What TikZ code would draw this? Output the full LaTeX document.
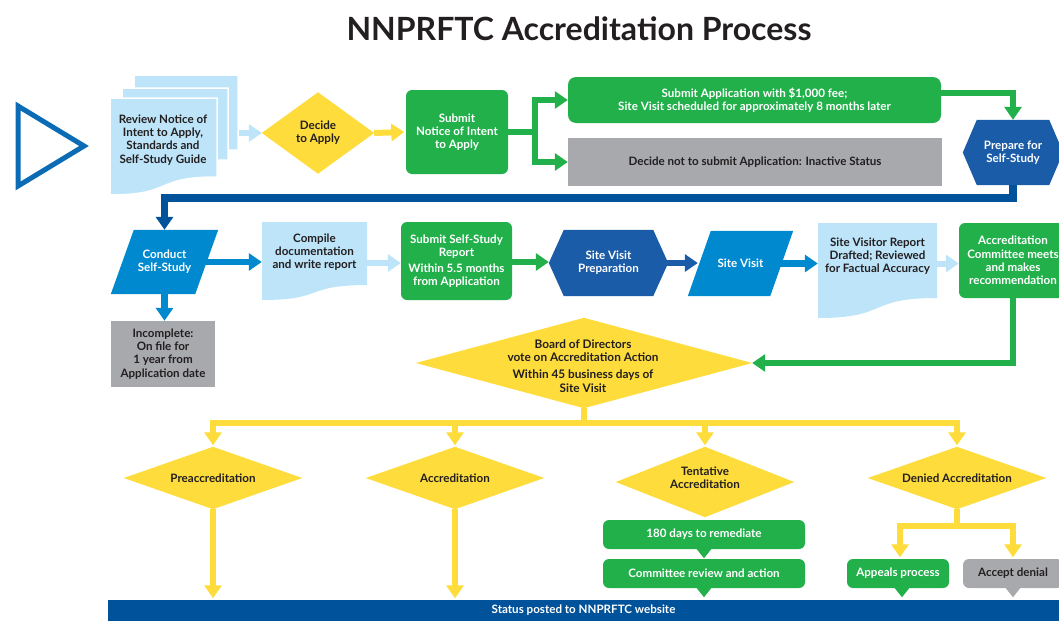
\documentclass[tikz,border=0pt]{standalone}
\usepackage{fontspec}
\setmainfont{Lato}
\usetikzlibrary{arrows.meta,calc}
\definecolor{cyel}{HTML}{FDDC3C}
\definecolor{cgrn}{HTML}{22B04B}
\definecolor{cgry}{HTML}{A7A9AC}
\definecolor{clbl}{HTML}{BDE4F8}
\definecolor{cdbl}{HTML}{1A5CA8}
\definecolor{cnav}{HTML}{00529B}
\definecolor{cbbl}{HTML}{0089CF}
\definecolor{ctri}{HTML}{0B6BB5}
\definecolor{ctxt}{HTML}{231F20}
\pgfdeclarelayer{lines}\pgfdeclarelayer{shapes}
\pgfsetlayers{lines,shapes,main}
\begin{document}
\begin{tikzpicture}[x=1pt,y=-1pt,
  every node/.style={inner sep=0pt, align=center, font=\bfseries\fontsize{11.6}{13.3}\selectfont},
  dk/.style={text=ctxt},
  wt/.style={text=white},
  gbox/.style={fill=cgrn, rounded corners=6pt, text=white},
  graybox/.style={fill=cgry, text=ctxt},
  tip/.style={-{Triangle[width=17pt,length=13pt]}},
  yln/.style={draw=cyel, line width=6pt},
  yarr/.style={yln, tip, shorten >=1.5pt},
  garr/.style={draw=cgrn, line width=6pt, tip},
  lbarr/.style={draw=clbl, line width=6pt, tip},
  bbarr/.style={draw=cbbl, line width=6.5pt, tip},
  dbarr/.style={draw=cdbl, line width=6.5pt, tip},
  navarr/.style={draw=cnav, line width=7.5pt, tip}]
\useasboundingbox (0,0) rectangle (1059,621);

% title
\node[dk, font=\bfseries\fontsize{32}{32}\selectfont] (title) at (579,29) {NNPRFTC Accreditation Process};

% start triangle
\draw[ctri, line width=5pt, line join=miter] (18,106) -- (84,146) -- (18,186) -- cycle;

% nodes
\node[dk] (rev) at (163,140) {Review Notice of\\Intent to Apply,\\Standards and\\Self-Study Guide};
\coordinate (revout) at (238,133);
\node[dk, minimum width=112pt, minimum height=81pt] (dec) at (318,133) {Decide\\to Apply};
\node[gbox, minimum width=102pt, minimum height=84pt] (sna) at (457,132) {Submit\\Notice of Intent\\to Apply};
\coordinate (br) at (535,132);
\node[gbox, rounded corners=8pt, minimum width=373pt, minimum height=46pt] (sub) at (754.5,100) {Submit Application with \$1,000 fee;\\Site Visit scheduled for approximately 8 months later};
\node[graybox, minimum width=374pt, minimum height=48pt] (ina) at (755,162) {Decide not to submit Application: Inactive Status};
\node[wt, minimum width=100pt, minimum height=65pt] (prep) at (1013,152.5) {Prepare for\\Self-Study};
\coordinate (db) at (1013,198);

\node[wt, minimum width=107pt, minimum height=64pt] (cond) at (164.5,262) {Conduct\\Self-Study};
\node[graybox, minimum width=104pt, minimum height=66pt] (inc) at (163,354) {Incomplete:\\On file for\\1 year from\\Application date};
\node[minimum width=105pt, minimum height=78pt] (comp) at (314.5,261) {};
\node[dk] (compt) at (314.5,252) {Compile\\documentation\\and write report};
\node[gbox, minimum width=111pt, minimum height=78pt] (ssr) at (456.5,261) {Submit Self-Study\\Report\\[2.5pt]Within 5.5 months\\from Application};
\node[wt, minimum width=119pt, minimum height=66pt] (svp) at (608.5,263) {Site Visit\\Preparation};
\node[wt, minimum width=105pt, minimum height=65pt] (sv) at (740.5,263.5) {Site Visit};
\node[minimum width=119pt, minimum height=95pt] (svr) at (877.5,270.5) {};
\node[dk] (svrt) at (877.5,256) {Site Visitor Report\\Drafted; Reviewed\\for Factual Accuracy};
\node[gbox, minimum width=108pt, minimum height=75pt] (acm) at (1013,260.5) {Accreditation\\Committee meets\\and makes\\recommendation};

\node[minimum width=336pt, minimum height=90pt] (bod) at (584,363) {};
\node[dk, font=\bfseries\fontsize{11.8}{13.3}\selectfont] (bodt) at (583,366) {Board of Directors\\vote on Accreditation Action\\[4pt]Within 45 business days of\\Site Visit};
\coordinate (ysplit) at (584,423);

\node[dk, minimum width=178pt, minimum height=62pt] (pre) at (213,478) {Preaccreditation};
\node[dk, minimum width=178pt, minimum height=62pt] (acc) at (455,478) {Accreditation};
\node[minimum width=178pt, minimum height=70pt] (ten) at (705,482) {};
\node[dk] (tent) at (705,478) {Tentative\\Accreditation};
\node[dk, minimum width=178pt, minimum height=62pt] (den) at (957,478) {Denied Accreditation};
\node[gbox, minimum width=202pt, minimum height=29pt] (r180) at (704,534.5) {180 days to remediate};
\node[gbox, minimum width=202pt, minimum height=29pt] (crv) at (704,573.5) {Committee review and action};
\coordinate (dsplit) at (957,526);
\node[gbox, minimum width=102pt, minimum height=29pt] (app) at (898,573.5) {Appeals process};
\node[graybox, rounded corners=6pt, minimum width=100pt, minimum height=29pt] (acd) at (1013,573.5) {Accept denial};
\node[fill=cnav, text=white, minimum width=951pt, minimum height=21pt] (bar) at (583.5,610.5) {Status posted to NNPRFTC website};

% shapes
\begin{pgfonlayer}{shapes}
\filldraw[fill=clbl, draw=white, line width=1.5pt] (134,75) -- (238,75) -- (238,150) .. controls (175.6,150) and (196.4,168) .. (134,168) -- cycle;
\filldraw[fill=clbl, draw=white, line width=1.5pt] (122,88) -- (228,88) -- (228,160) .. controls (164.4,160) and (185.6,178) .. (122,178) -- cycle;
\filldraw[fill=clbl, draw=white, line width=1.5pt] (110,98) -- (217,98) -- (217,177) .. controls (152.8,177) and (174.2,195) .. (110,195) -- cycle;
\fill[cyel] (dec.west) -- (dec.north) -- (dec.east) -- (dec.south) -- cycle;
\fill[cdbl] ([xshift=14pt]prep.north west) -- ([xshift=-14pt]prep.north east) -- (prep.east) -- ([xshift=-14pt]prep.south east) -- ([xshift=14pt]prep.south west) -- (prep.west) -- cycle;
\fill[cbbl] ([xshift=23pt]cond.north west) -- (cond.north east) -- ([xshift=-23pt]cond.south east) -- (cond.south west) -- cycle;
\fill[clbl] (262,222) -- (367,222) -- (367,285) .. controls (304,285) and (325,300) .. (262,300) -- cycle;
\fill[cdbl] ([xshift=15pt]svp.north west) -- ([xshift=-15pt]svp.north east) -- (svp.east) -- ([xshift=-15pt]svp.south east) -- ([xshift=15pt]svp.south west) -- (svp.west) -- cycle;
\fill[cbbl] ([xshift=23pt]sv.north west) -- (sv.north east) -- ([xshift=-23pt]sv.south east) -- (sv.south west) -- cycle;
\fill[clbl] (818,223) -- (937,223) -- (937,298) .. controls (865.6,298) and (889.4,318) .. (818,318) -- cycle;
\fill[cyel] (bod.west) -- (bod.north) -- (bod.east) -- (bod.south) -- cycle;
\fill[cyel] (pre.west) -- (pre.north) -- (pre.east) -- (pre.south) -- cycle;
\fill[cyel] (acc.west) -- (acc.north) -- (acc.east) -- (acc.south) -- cycle;
\fill[cyel] (ten.west) -- (ten.north) -- (ten.east) -- (ten.south) -- cycle;
\fill[cyel] (den.west) -- (den.north) -- (den.east) -- (den.south) -- cycle;
\fill[cgrn] ([xshift=-8pt,yshift=1pt]r180.south) -- ([xshift=8pt,yshift=1pt]r180.south) -- ([yshift=-9pt]r180.south) -- cycle;
\fill[cgrn] ([xshift=-8pt,yshift=1pt]crv.south) -- ([xshift=8pt,yshift=1pt]crv.south) -- ([yshift=-9pt]crv.south) -- cycle;
\fill[cgrn] ([xshift=-4pt,yshift=1pt]app.south) -- ([xshift=12pt,yshift=1pt]app.south) -- ([xshift=4pt,yshift=-9pt]app.south) -- cycle;
\fill[cgry] ([xshift=-8pt,yshift=1pt]acd.south) -- ([xshift=8pt,yshift=1pt]acd.south) -- ([yshift=-9pt]acd.south) -- cycle;
\end{pgfonlayer}

% connectors
\begin{pgfonlayer}{lines}
\draw[lbarr] (revout) -- (dec.west);
\draw[yarr] (dec.east) -- (sna.west);
\draw[garr] (sna.east) -- (br) |- (sub.west);
\draw[garr] (br) |- (ina.west);
\draw[garr] ([yshift=7pt]sub.east) -| (prep.north);
\draw[navarr] (prep.south) -- (db) -| (cond.north);
\draw[bbarr] (cond.center) -- (cond.center -| comp.west);
\draw[bbarr] (cond.south) -- (cond.south |- inc.north);
\draw[lbarr] ([yshift=-2pt]comp.center) -- ([yshift=-2pt]comp.center -| ssr.west);
\draw[garr] ([yshift=-1pt]ssr.center) -- ([yshift=-1pt]ssr.center -| svp.west);
\draw[dbarr] (svp.center) -- ([xshift=10pt]svp.center -| sv.west);
\draw[bbarr] (sv.center) -- (sv.center -| svr.west);
\draw[lbarr] ([yshift=7pt]svr.center) -- ([yshift=7pt]svr.center -| acm.west);
\draw[garr] (acm.south) |- (bod.east);
\draw[yln] (bod.south) -- (ysplit);
\draw[yarr] (ysplit) -| (pre.north);
\draw[yarr] (ysplit) -| (acc.north);
\draw[yarr] (ysplit) -| (ten.north);
\draw[yarr] (ysplit) -| (den.north);
\draw[yarr] (pre.south) -- (pre.south |- bar.north);
\draw[yarr] (acc.south) -- (acc.south |- bar.north);
\draw[yln] (den.south) -- (dsplit);
\draw[yarr] ([xshift=2pt]dsplit) -| ([xshift=2pt]app.north);
\draw[yarr] (dsplit) -| (acd.north);
\end{pgfonlayer}
\end{tikzpicture}
\end{document}
